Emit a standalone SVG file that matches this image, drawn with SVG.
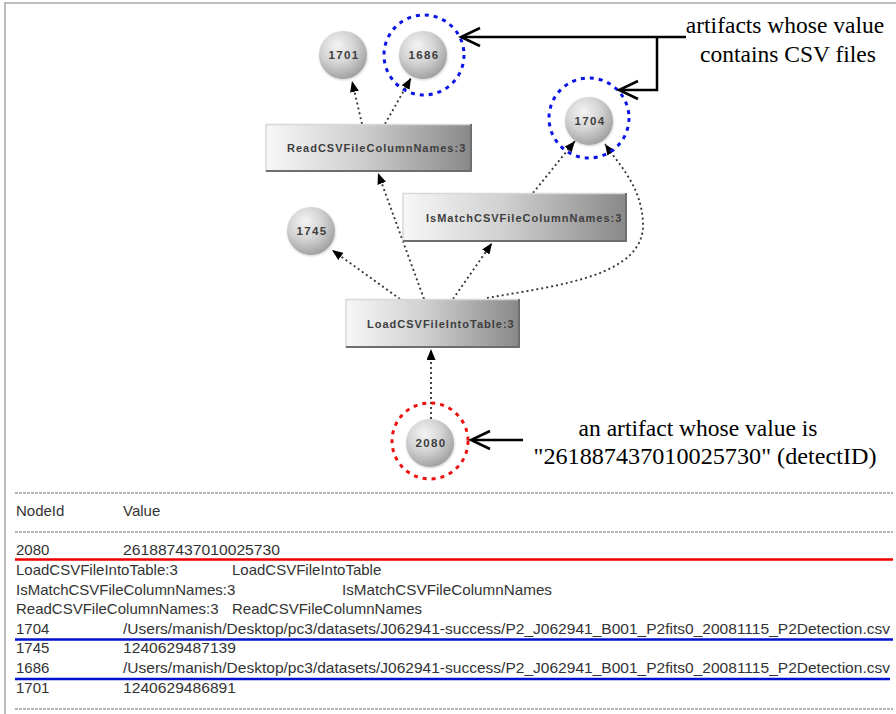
<svg xmlns="http://www.w3.org/2000/svg" width="896" height="714" viewBox="0 0 896 714">
  <defs>
    <radialGradient id="ball" cx="0.4" cy="0.35" r="0.7" fx="0.38" fy="0.3">
      <stop offset="0" stop-color="#f4f4f4"/>
      <stop offset="0.5" stop-color="#d4d4d4"/>
      <stop offset="1" stop-color="#9c9c9c"/>
    </radialGradient>
    <linearGradient id="bar" x1="0" y1="0" x2="1" y2="0">
      <stop offset="0" stop-color="#f7f7f7"/>
      <stop offset="0.45" stop-color="#d0d0d0"/>
      <stop offset="1" stop-color="#888"/>
    </linearGradient>
    <marker id="tri" viewBox="0 0 11 9" refX="11" refY="4.5" markerWidth="11" markerHeight="9" markerUnits="userSpaceOnUse" orient="auto">
      <path d="M0,0 L11,4.5 L0,9 z" fill="#000"/>
    </marker>
    <filter id="soft" x="-20%" y="-20%" width="140%" height="140%">
      <feDropShadow dx="0.5" dy="1" stdDeviation="0.8" flood-color="#000" flood-opacity="0.2"/>
    </filter>
  </defs>
  <style>
    .ball { fill: url(#ball); filter: url(#soft); }
    .bar { fill: url(#bar); }
    .bevel-hi { stroke: #d8d8d8; stroke-width: 1.5; fill: none; }
    .bevel-lo { stroke: #6e6e6e; stroke-width: 2; fill: none; }
    .nlabel { font-family: "Liberation Sans", Arial, sans-serif; font-weight: bold; font-size: 11px; letter-spacing: 1px; fill: #3e3e3e; }
    .blabel { font-size: 11.5px; letter-spacing: 1.3px; }
    .ring-blue { fill: none; stroke: #0a14e6; stroke-width: 3; stroke-dasharray: 4 5; }
    .ring-red { fill: none; stroke: #ee1111; stroke-width: 3; stroke-dasharray: 4 5; }
    .edge { fill: none; stroke: #3a3a3a; stroke-width: 1.9; stroke-dasharray: 2 3; marker-end: url(#tri); }
    .note-line { fill: none; stroke: #000; stroke-width: 2.5; }
    .note-head { fill: none; stroke: #000; stroke-width: 2.5; stroke-linejoin: miter; }
    .note { font-family: "Liberation Serif", "Times New Roman", serif; font-size: 23.5px; fill: #000; text-anchor: middle; }
    .tbl { font-family: "Liberation Sans", Arial, sans-serif; font-size: 15px; fill: #333; }
    .rule { stroke: #6a6a6a; stroke-width: 1; stroke-dasharray: 3 1; }
    .hl-red { stroke: #ee0000; stroke-width: 2.5; }
    .hl-blue { stroke: #0010d0; stroke-width: 2.5; }
    .frame { stroke: #bdbdbd; stroke-width: 2; fill: none; }
  </style>

  <rect x="0" y="0" width="896" height="714" fill="#fff"/>
  <!-- window frame -->
  <path class="frame" d="M5,714 L5,3 L896,3"/>

  <!-- connectors -->
  <g id="connectors">
    <path class="edge" d="M362,124 L352,81"/>
    <path class="edge" d="M385,124 L411,78"/>
    <path class="edge" d="M424,299 L378,173"/>
    <path class="edge" d="M400,299 L332,250"/>
    <path class="edge" d="M453,299 L492,243"/>
    <path class="edge" d="M533,193 L575,141"/>
    <path class="edge" d="M487,298 C560,285 646,276 643,222 C641,186 620,166 605,144"/>
    <path class="edge" d="M431,419 L431,349"/>
  </g>

  <!-- process nodes -->
  <g id="node-read">
    <rect class="bar" x="266" y="124" width="206" height="48"/>
    <path class="bevel-hi" d="M266,172 L266,124.5 L471,124.5"/>
    <path class="bevel-lo" d="M471,124 L471,171 L266,171"/>
    <text class="nlabel" x="287" y="152">ReadCSVFileColumnNames:3</text>
  </g>
  <g id="node-ismatch">
    <rect class="bar" x="403" y="193" width="224" height="49"/>
    <path class="bevel-hi" d="M403,242 L403,193.5 L626,193.5"/>
    <path class="bevel-lo" d="M626,193 L626,241 L403,241"/>
    <text class="nlabel" x="426" y="222">IsMatchCSVFileColumnNames:3</text>
  </g>
  <g id="node-load">
    <rect class="bar" x="346" y="299" width="174" height="49"/>
    <path class="bevel-hi" d="M346,348 L346,299.5 L519,299.5"/>
    <path class="bevel-lo" d="M519,299 L519,347 L346,347"/>
    <text class="nlabel" x="367" y="328">LoadCSVFileIntoTable:3</text>
  </g>

  <!-- artifact nodes -->
  <g id="node-1701">
    <circle class="ball" cx="343" cy="55" r="24"/>
    <text class="nlabel blabel" x="344" y="59" text-anchor="middle">1701</text>
  </g>
  <g id="node-1686">
    <circle class="ball" cx="423" cy="55" r="24"/>
    <text class="nlabel blabel" x="424" y="59" text-anchor="middle">1686</text>
    <circle class="ring-blue" cx="424" cy="55" r="40"/>
  </g>
  <g id="node-1704">
    <circle class="ball" cx="589" cy="121" r="24"/>
    <text class="nlabel blabel" x="590" y="125" text-anchor="middle">1704</text>
    <circle class="ring-blue" cx="589" cy="118" r="40"/>
  </g>
  <g id="node-1745">
    <circle class="ball" cx="311" cy="231" r="24"/>
    <text class="nlabel blabel" x="312" y="235" text-anchor="middle">1745</text>
  </g>
  <g id="node-2080">
    <circle class="ball" cx="430" cy="443" r="24"/>
    <text class="nlabel blabel" x="431" y="447" text-anchor="middle">2080</text>
    <circle class="ring-red" cx="430" cy="441" r="38"/>
  </g>

  <!-- callouts -->
  <g id="callout-csv">
    <path class="note-line" d="M686,37 L463,37 M657,37 L657,90 L621,90"/>
    <path class="note-head" d="M480,28 L461,37 L480,46"/>
    <path class="note-head" d="M638,81 L619,90 L638,99"/>
    <text class="note" x="785" y="33">artifacts whose value</text>
    <text class="note" x="788" y="62">contains CSV files</text>
  </g>
  <g id="callout-detect">
    <path class="note-line" d="M523,440 L473,440"/>
    <path class="note-head" d="M490,431 L471,440 L490,449"/>
    <text class="note" x="698" y="436">an artifact whose value is</text>
    <text class="note" x="705" y="464" textLength="343" lengthAdjust="spacingAndGlyphs">"261887437010025730" (detectID)</text>
  </g>

  <!-- value listing -->
  <g id="listing">
    <line class="rule" x1="15" y1="493" x2="893" y2="493"/>
    <text class="tbl" x="16" y="516">NodeId</text>
    <text class="tbl" x="123" y="516">Value</text>
    <line class="rule" x1="15" y1="532" x2="893" y2="532"/>

    <text class="tbl" x="16" y="555">2080</text>
    <text class="tbl" x="123" y="555" textLength="157" lengthAdjust="spacingAndGlyphs">261887437010025730</text>
    <line class="hl-red" x1="15" y1="559.5" x2="893" y2="559.5"/>

    <text class="tbl" x="16" y="575">LoadCSVFileIntoTable:3</text>
    <text class="tbl" x="232" y="575">LoadCSVFileIntoTable</text>
    <text class="tbl" x="16" y="595">IsMatchCSVFileColumnNames:3</text>
    <text class="tbl" x="342" y="595" textLength="210" lengthAdjust="spacingAndGlyphs">IsMatchCSVFileColumnNames</text>
    <text class="tbl" x="16" y="614">ReadCSVFileColumnNames:3</text>
    <text class="tbl" x="232" y="614">ReadCSVFileColumnNames</text>

    <text class="tbl" x="16" y="634">1704</text>
    <text class="tbl" x="123" y="634" textLength="767" lengthAdjust="spacingAndGlyphs">/Users/manish/Desktop/pc3/datasets/J062941-success/P2_J062941_B001_P2fits0_20081115_P2Detection.csv</text>
    <line class="hl-blue" x1="15" y1="639.5" x2="893" y2="639.5"/>

    <text class="tbl" x="16" y="653">1745</text>
    <text class="tbl" x="123" y="653" textLength="113" lengthAdjust="spacingAndGlyphs">1240629487139</text>

    <text class="tbl" x="16" y="673">1686</text>
    <text class="tbl" x="123" y="673" textLength="767" lengthAdjust="spacingAndGlyphs">/Users/manish/Desktop/pc3/datasets/J062941-success/P2_J062941_B001_P2fits0_20081115_P2Detection.csv</text>
    <line class="hl-blue" x1="15" y1="679" x2="890" y2="679"/>

    <text class="tbl" x="16" y="693">1701</text>
    <text class="tbl" x="123" y="693" textLength="113" lengthAdjust="spacingAndGlyphs">1240629486891</text>
    <line class="rule" x1="15" y1="709" x2="893" y2="709"/>
  </g>
</svg>
